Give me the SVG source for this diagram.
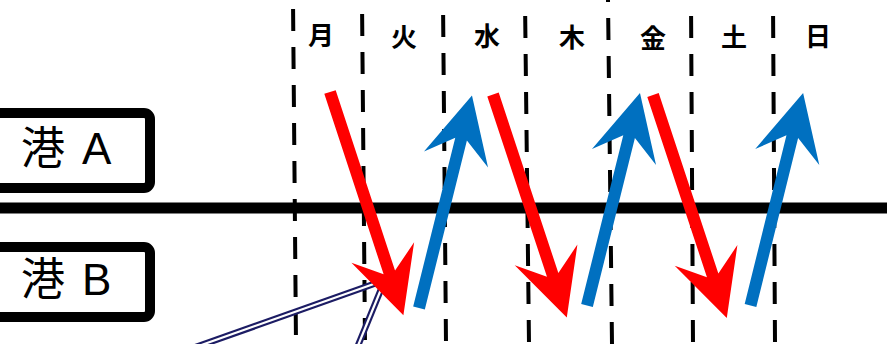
<svg xmlns="http://www.w3.org/2000/svg" xmlns:xlink="http://www.w3.org/1999/xlink" width="887" height="344" viewBox="0 0 887 344">
  <style>
    .day { font-family: "Noto Sans CJK JP", sans-serif; font-size: 26px; font-weight: bold; fill: #000; text-anchor: middle; }
    .port { font-family: "Liberation Sans", "Noto Sans CJK JP", sans-serif; font-size: 44px; fill: #000; }
    .box { fill: #fff; stroke: #000; stroke-width: 10; }
    .dash { stroke: #000; stroke-width: 4; stroke-dasharray: 22 16; fill: none; }
    .dbl-outer { stroke: #1c1c64; stroke-width: 6.5; fill: none; }
    .dbl-inner { stroke: #fff; stroke-width: 2.2; fill: none; }
    .red { fill: #ff0000; }
    .blue { fill: #0070c0; }
  </style>
  <defs>
    <path id="redArrow" d="M0,-6 H190 L169,-33 L235,0 L169,33 L190,6 H0 Z"/>
    <path id="blueArrow" d="M0,-6 H174 L153,-33 L219,0 L153,33 L174,6 H0 Z"/>
  </defs>
  <rect width="887" height="344" fill="#fff"/>

  <g id="day-grid">
    <line class="dash" x1="293" y1="0" x2="296" y2="344" stroke-dashoffset="-9"/>
    <line class="dash" x1="362" y1="0" x2="365" y2="344" stroke-dashoffset="-14"/>
    <line class="dash" x1="443" y1="0" x2="446" y2="344" stroke-dashoffset="-15"/>
    <line class="dash" x1="525" y1="0" x2="529" y2="344" stroke-dashoffset="-16"/>
    <line class="dash" x1="608" y1="0" x2="612" y2="344" stroke-dashoffset="-18"/>
    <line class="dash" x1="691" y1="0" x2="693" y2="344" stroke-dashoffset="-16"/>
    <line class="dash" x1="773" y1="0" x2="775" y2="344" stroke-dashoffset="-16"/>
  </g>

  <g id="day-labels">
    <text class="day" x="321" y="45">月</text>
    <text class="day" x="404" y="47">火</text>
    <text class="day" x="487" y="46">水</text>
    <text class="day" x="572" y="47">木</text>
    <text class="day" x="653" y="48">金</text>
    <text class="day" x="734" y="47">土</text>
    <text class="day" x="818" y="46">日</text>
  </g>

  <line id="divider" x1="0" y1="208" x2="887" y2="208" stroke="#000" stroke-width="11"/>

  <g id="port-a">
    <rect class="box" x="-20" y="113" width="170" height="75" rx="6"/>
    <text class="port" x="21" y="164">港<tspan x="82">A</tspan></text>
  </g>
  <g id="port-b">
    <rect class="box" x="-20" y="247" width="170" height="70" rx="6"/>
    <text class="port" x="21" y="295">港<tspan x="82">B</tspan></text>
  </g>

  <g id="connectors">
    <g id="double-lines">
      <line class="dbl-outer" x1="193" y1="348" x2="385" y2="280"/>
      <line class="dbl-inner" x1="193" y1="348" x2="385" y2="280"/>
      <line class="dbl-outer" x1="357" y1="348" x2="384" y2="282"/>
      <line class="dbl-inner" x1="357" y1="348" x2="384" y2="282"/>
    </g>
    <use xlink:href="#redArrow" class="red" transform="translate(330,92) rotate(71.8)"/>
    <use xlink:href="#blueArrow" class="blue" transform="translate(419,308) rotate(-76)"/>
    <use xlink:href="#redArrow" class="red" transform="translate(493,94.5) rotate(71.7)"/>
    <use xlink:href="#blueArrow" class="blue" transform="translate(587,305.5) rotate(-76)"/>
    <use xlink:href="#redArrow" class="red" transform="translate(653,95) rotate(71.7)"/>
    <use xlink:href="#blueArrow" class="blue" transform="translate(750.5,305.5) rotate(-76.1)"/>
  </g>
</svg>
